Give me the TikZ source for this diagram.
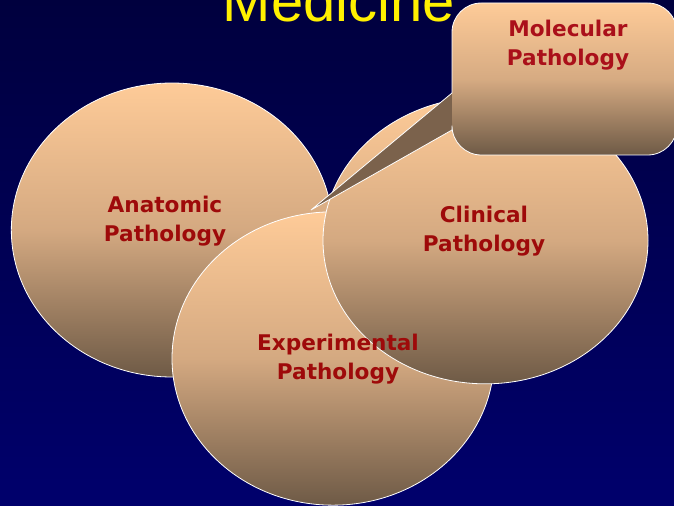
\documentclass[tikz,border=0pt]{standalone}
\usepackage{fontspec}
\setmainfont{DejaVu Sans}
\newfontfamily\titlefont{Liberation Sans}
\usepackage{tikz}
\usetikzlibrary{shapes.geometric, positioning}
\definecolor{navytop}{HTML}{00003E}
\definecolor{navybot}{HTML}{00006C}
\definecolor{peach}{HTML}{FECB98}
\definecolor{tan}{HTML}{D4A981}
\definecolor{bark}{HTML}{6E5A46}
\definecolor{pointer}{HTML}{7B624C}
\definecolor{deepred}{HTML}{9E0A0A}
\definecolor{crimson}{HTML}{AA101A}
\definecolor{sun}{HTML}{FFF000}

\begin{document}
\begin{tikzpicture}[x=0.75pt, y=-0.75pt,
      blob/.style={ellipse, draw=white, line width=0.6pt, inner sep=0pt,
                   top color=peach, bottom color=bark, middle color=tan},
      lbl/.style={font=\bfseries\fontsize{16.2}{22.2}\selectfont,
                  text=deepred, align=center},
      edge/.style={draw=white, line width=0.6pt}]
    \useasboundingbox (0,0) rectangle (674,506);
    \clip (0,0) rectangle (674,506);
    \shade[top color=navytop, bottom color=navybot] (0,0) rectangle (674,506);
    \node[anchor=base, text=sun, font=\titlefont\fontsize{43.5}{50}\selectfont]
      (title) at (339,22) {Medicine};
    % the three fields
    \node[blob, minimum width=241pt, minimum height=220.5pt] (anat) at (172,230) {};
    \node[blob, minimum width=241.5pt, minimum height=220pt] (expt) at (333,358.5) {};
    \node[blob, minimum width=243.75pt, minimum height=215pt] (clin) at (485.5,240.5) {};
    \node[lbl] (anattxt) at (165,221) {Anatomic\\Pathology};
    \node[lbl] (clintxt) at (484,231) {Clinical\\Pathology};
    \node[lbl] (expttxt) at (338,359) {Experimental\\Pathology};
    % callout
    \coordinate (tip) at (311,210);
    \coordinate (pa) at (452,93);
    \coordinate (pb) at (452,130);
    \fill[pointer] (pa) -- (tip) -- (pb) -- cycle;
    \shade[top color=peach, bottom color=bark, middle color=tan!95!peach,
           rounded corners=22] (452,3) rectangle (677,155);
    \draw[edge] (pb) [rounded corners=22] -- (452,155) -- (677,155)
      -- (677,3) -- (452,3) -- (pa);
    \draw[edge] (pa) -- (tip) -- (pb);
    \node[lbl, text=crimson] (moltxt) at (568,45) {Molecular\\Pathology};
  \end{tikzpicture}
\end{document}
